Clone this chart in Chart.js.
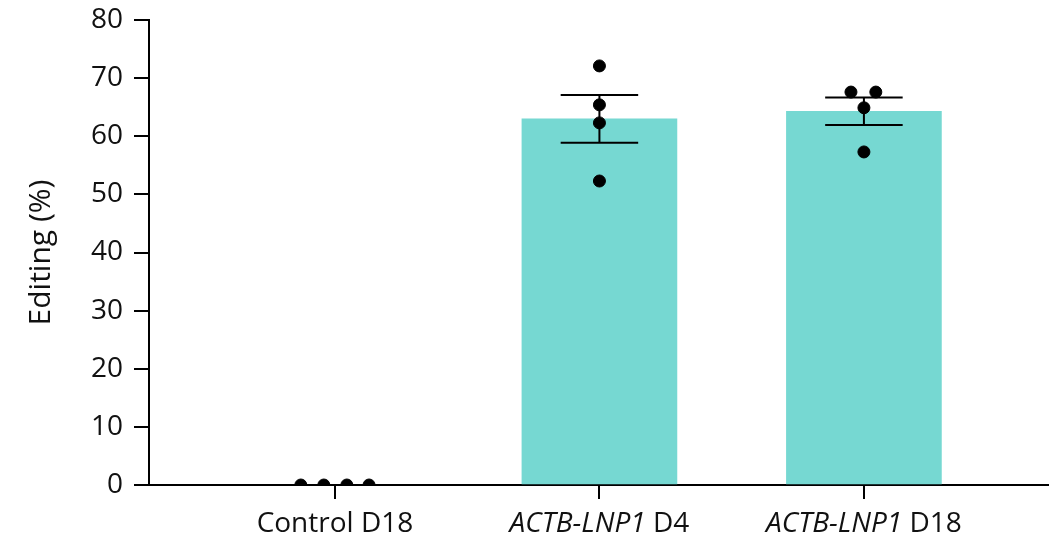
<!DOCTYPE html>
<html>
<head>
<meta charset="utf-8">
<script src="https://cdn.jsdelivr.net/npm/chart.js@4.4.1/dist/chart.umd.min.js"></script>
<style>
  html, body { margin: 0; padding: 0; background: #fff; }
  #wrap { width: 1058px; height: 536px; }
</style>
</head>
<body>
<div id="wrap"><canvas id="editChart" width="1058" height="536"></canvas></div>
<script>
  // group labels: italic gene part + plain suffix
  const groupItalic = ['', 'ACTB-LNP1', 'ACTB-LNP1'];
  const groupPlain = ['Control D18', ' D4', ' D18'];

  // bar means and SEM
  const means = [0, 63.0, 64.3];
  const sems = [0, 4.1, 2.35];

  // individual replicate points and their horizontal jitter
  const points = [
    [0, 0, 0, 0],
    [72.1, 65.4, 62.3, 52.3],
    [67.6, 67.6, 64.9, 57.3]
  ];
  const jitter = [
    [-0.129, -0.042, 0.045, 0.129],
    [0, 0, 0, 0],
    [-0.049, 0.045, 0, 0]
  ];

  const yTicks = [0, 10, 20, 30, 40, 50, 60, 70, 80];

  const barColor = '#76d8d2';
  const fontFam = '"Open Sans", "Noto Sans", sans-serif';
  const barW = 155;
  const labelSize = 28;

  // control mean is zero, no bar drawn for it
  const barData = means.map((m, i) => ({ x: i, y: m })).filter(d => d.y > 0);
  const dotData = [];
  points.forEach((grp, i) => {
    grp.forEach((v, j) => dotData.push({ x: i + jitter[i][j], y: v }));
  });

  const errorBars = {
    id: 'errorBars',
    afterDatasetDraw(chart, args) {
      if (args.index !== 0) return;
      const ctx = chart.ctx;
      const xs = chart.scales.x, ys = chart.scales.y;
      ctx.save();
      ctx.strokeStyle = '#000';
      ctx.lineWidth = 2;
      means.forEach((m, i) => {
        if (!sems[i]) return;
        const cx = xs.getPixelForValue(i);
        const top = ys.getPixelForValue(m + sems[i]);
        const bot = ys.getPixelForValue(m - sems[i]);
        const half = barW / 4;
        ctx.beginPath();
        ctx.moveTo(cx, top); ctx.lineTo(cx, bot);
        ctx.moveTo(cx - half, top); ctx.lineTo(cx + half, top);
        ctx.moveTo(cx - half, bot); ctx.lineTo(cx + half, bot);
        ctx.stroke();
      });
      ctx.restore();
    }
  };

  const groupLabels = {
    id: 'groupLabels',
    afterDraw(chart) {
      const ctx = chart.ctx;
      const xs = chart.scales.x;
      const y = 532;
      ctx.save();
      ctx.fillStyle = '#111';
      ctx.textBaseline = 'alphabetic';
      ctx.textAlign = 'left';
      groupPlain.forEach((plain, i) => {
        const it = groupItalic[i];
        ctx.font = 'italic ' + labelSize + 'px ' + fontFam;
        const wi = it ? ctx.measureText(it).width : 0;
        ctx.font = labelSize + 'px ' + fontFam;
        const wp = ctx.measureText(plain).width;
        let x = xs.getPixelForValue(i) - (wi + wp) / 2;
        if (it) {
          ctx.font = 'italic ' + labelSize + 'px ' + fontFam;
          ctx.fillText(it, x, y);
          x += wi;
        }
        ctx.font = labelSize + 'px ' + fontFam;
        ctx.fillText(plain, x, y);
      });
      ctx.restore();
    }
  };

  new Chart(document.getElementById('editChart'), {
    type: 'bar',
    data: {
      datasets: [
        {
          type: 'bar',
          data: barData,
          backgroundColor: barColor,
          borderWidth: 0,
          barThickness: barW,
          order: 2
        },
        {
          type: 'scatter',
          data: dotData,
          backgroundColor: '#000',
          borderColor: '#000',
          pointRadius: 6,
          order: 1
        }
      ]
    },
    options: {
      responsive: false,
      animation: false,
      layout: { padding: { top: 20, right: 10, left: 0, bottom: 0 } },
      plugins: { legend: { display: false }, tooltip: { enabled: false } },
      scales: {
        x: {
          type: 'linear',
          min: -0.703,
          max: 2.696,
          offset: false,
          afterBuildTicks(scale) { scale.ticks = groupPlain.map((_, i) => ({ value: i })); },
          afterFit(scale) { scale.height = 51; scale.paddingLeft = 0; scale.paddingRight = 0; },
          ticks: { display: false },
          grid: { offset: false, drawOnChartArea: false, drawTicks: true, tickLength: 14, color: '#000', lineWidth: 2 },
          border: { display: true, color: '#000', width: 2 }
        },
        y: {
          min: 0,
          max: 80,
          afterBuildTicks(scale) { scale.ticks = yTicks.map(v => ({ value: v })); },
          afterFit(scale) { scale.width = 149; scale.paddingTop = 0; scale.paddingBottom = 0; },
          ticks: { color: '#111', font: { family: fontFam, size: 28 }, padding: 11 },
          grid: { drawOnChartArea: false, drawTicks: true, tickLength: 15, color: '#000', lineWidth: 2 },
          border: { display: true, color: '#000', width: 2 },
          title: {
            display: true,
            text: 'Editing (%)',
            color: '#111',
            font: { family: fontFam, size: 30 },
            padding: { top: 23, bottom: 0 }
          }
        }
      }
    },
    plugins: [errorBars, groupLabels]
  });
</script>
</body>
</html>
